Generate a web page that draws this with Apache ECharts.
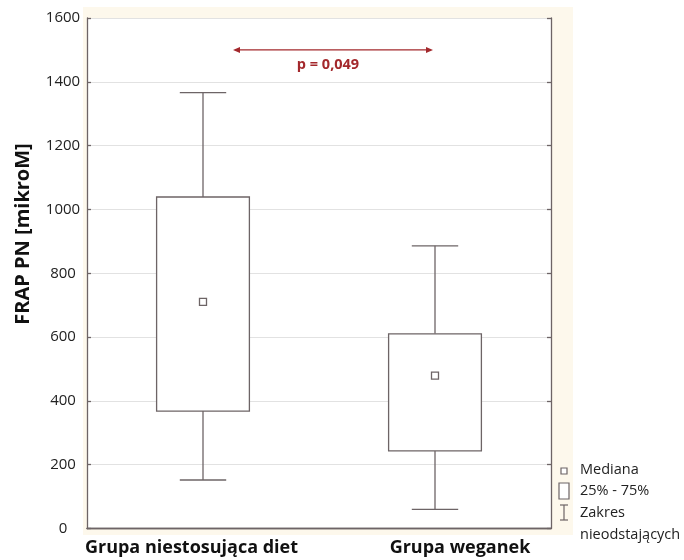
<!DOCTYPE html>
<html>
<head>
<meta charset="utf-8">
<script src="https://cdn.jsdelivr.net/npm/echarts@6/dist/echarts.min.js"></script>
<style>
  html, body { margin: 0; padding: 0; background: #ffffff; }
  #chart { width: 684px; height: 560px; }
</style>
</head>
<body>
<div id="chart"></div>
<script>
// FRAP PN by group: non-outlier range, quartiles and median
const categories = ['Grupa niestosująca diet', 'Grupa weganek'];
const whiskerLow = [152, 60];
const quartile1 = [368, 243];
const median = [710, 479];
const quartile3 = [1039, 610];
const whiskerHigh = [1366, 886];
const yTicks = [0, 200, 400, 600, 800, 1000, 1200, 1400, 1600];
const pValueText = 'p = 0,049';
const pValueLevel = 1500;

const lineColor = '#6d6466';
const fontFamily = '"Open Sans", Lato, sans-serif';

const boxData = categories.map((c, i) => [
  i, whiskerLow[i], quartile1[i], median[i], quartile3[i], whiskerHigh[i]
]);

const chart = echarts.init(document.getElementById('chart'), null, { renderer: 'canvas' });

function renderBox(params, api) {
  const idx = api.value(0);
  const band = api.size([1, 0])[0];
  const boxW = band * 0.4;
  const capW = boxW * 0.5;
  const pLo = api.coord([idx, api.value(1)]);
  const pQ1 = api.coord([idx, api.value(2)]);
  const pMed = api.coord([idx, api.value(3)]);
  const pQ3 = api.coord([idx, api.value(4)]);
  const pHi = api.coord([idx, api.value(5)]);
  const cx = pQ1[0];
  const stroke = { stroke: lineColor, lineWidth: 1.3, fill: null };
  return {
    type: 'group',
    children: [
      { type: 'line', shape: { x1: cx, y1: pQ3[1], x2: cx, y2: pHi[1] }, style: stroke },
      { type: 'line', shape: { x1: cx - capW / 2, y1: pHi[1], x2: cx + capW / 2, y2: pHi[1] }, style: stroke },
      { type: 'line', shape: { x1: cx, y1: pQ1[1], x2: cx, y2: pLo[1] }, style: stroke },
      { type: 'line', shape: { x1: cx - capW / 2, y1: pLo[1], x2: cx + capW / 2, y2: pLo[1] }, style: stroke },
      { type: 'rect', shape: { x: cx - boxW / 2, y: pQ3[1], width: boxW, height: pQ1[1] - pQ3[1] },
        style: { stroke: lineColor, lineWidth: 1.3, fill: '#ffffff' } },
      { type: 'rect', shape: { x: cx - 3.5, y: pMed[1] - 3.5, width: 7, height: 7 },
        style: { stroke: lineColor, lineWidth: 1.3, fill: '#ffffff' } }
    ]
  };
}

const axisLineStyle = { color: lineColor, width: 1.3 };
const catLabelStyle = { color: '#111', fontFamily, fontWeight: 'bold', fontSize: 18 };

chart.setOption({
  backgroundColor: '#ffffff',
  animation: false,
  grid: { left: 87, right: 133, top: 18, bottom: 31.5, containLabel: false },
  xAxis: [
    {
      type: 'category',
      data: categories,
      position: 'bottom',
      axisLine: { lineStyle: axisLineStyle },
      axisTick: { inside: true, alignWithLabel: true, length: 4, lineStyle: axisLineStyle },
      axisLabel: {
        interval: 0,
        margin: 10,
        formatter: (v, i) => (i === 0 ? '{left|' + v + '}' : '{right|' + v + '}'),
        rich: {
          left: Object.assign({ padding: [0, 23, 0, 0] }, catLabelStyle),
          right: Object.assign({ padding: [0, 0, 0, 50] }, catLabelStyle)
        }
      },
      splitLine: { show: false }
    },
    {
      type: 'category',
      data: categories,
      position: 'top',
      axisLine: { lineStyle: axisLineStyle },
      axisTick: { inside: true, alignWithLabel: true, length: 4, lineStyle: axisLineStyle },
      axisLabel: { show: false }
    }
  ],
  yAxis: [
    {
      type: 'value',
      min: yTicks[0],
      max: yTicks[yTicks.length - 1],
      interval: yTicks[1] - yTicks[0],
      axisLine: { show: true, lineStyle: axisLineStyle },
      axisTick: { show: true, inside: true, length: 4, lineStyle: axisLineStyle },
      axisLabel: {
        color: '#222', fontFamily, fontSize: 15, margin: 24, align: 'center',
        formatter: (v) => String(v)
      },
      splitLine: { show: true, lineStyle: { color: '#e2e2e2', width: 1 } }
    },
    {
      type: 'value',
      min: yTicks[0],
      max: yTicks[yTicks.length - 1],
      interval: yTicks[1] - yTicks[0],
      position: 'right',
      axisLine: { show: true, lineStyle: axisLineStyle },
      axisTick: { show: true, inside: true, length: 4, lineStyle: axisLineStyle },
      axisLabel: { show: false },
      splitLine: { show: false }
    }
  ],
  series: [
    {
      type: 'custom',
      renderItem: renderBox,
      data: boxData,
      encode: { x: 0, y: [1, 2, 3, 4, 5] },
      z: 3
    }
  ]
});

// Cream frame, axis title, significance arrow and legend drawn as overlay graphics
const arrowY = chart.convertToPixel({ yAxisIndex: 0 }, pValueLevel);
const red = '#a3282c';
const arrowX1 = 233, arrowX2 = 433;
const legendFont = '14.5px ' + fontFamily;

chart.setOption({
  graphic: [
    { type: 'rect', z: -10, silent: true,
      shape: { x: 83, y: 7, width: 490, height: 528 },
      style: { fill: '#fdf8ec' } },
    { type: 'rect', z: -9, silent: true,
      shape: { x: 87, y: 18, width: 464, height: 510.5 },
      style: { fill: '#ffffff' } },
    { type: 'text', z: 10, x: 23, y: 234, rotation: Math.PI / 2,
      style: { text: 'FRAP PN [mikroM]', fill: '#111', font: 'bold 20px ' + fontFamily,
               align: 'center', verticalAlign: 'middle' } },
    { type: 'line', z: 10,
      shape: { x1: arrowX1 + 4, y1: arrowY, x2: arrowX2 - 4, y2: arrowY },
      style: { stroke: red, lineWidth: 1.3 } },
    { type: 'polygon', z: 10,
      shape: { points: [[arrowX1, arrowY], [arrowX1 + 7, arrowY - 3], [arrowX1 + 7, arrowY + 3]] },
      style: { fill: red } },
    { type: 'polygon', z: 10,
      shape: { points: [[arrowX2, arrowY], [arrowX2 - 7, arrowY - 3], [arrowX2 - 7, arrowY + 3]] },
      style: { fill: red } },
    { type: 'text', z: 10,
      x: 328, y: arrowY + 15,
      style: { text: pValueText, fill: red, font: 'bold 14.5px ' + fontFamily, align: 'center', verticalAlign: 'middle' } },

    // legend
    { type: 'rect', z: 10, shape: { x: 561, y: 468, width: 6, height: 6 },
      style: { stroke: lineColor, lineWidth: 1.2, fill: '#ffffff' } },
    { type: 'rect', z: 10, shape: { x: 559, y: 483, width: 10, height: 16 },
      style: { stroke: lineColor, lineWidth: 1.2, fill: '#ffffff' } },
    { type: 'line', z: 10, shape: { x1: 564, y1: 505, x2: 564, y2: 520 },
      style: { stroke: lineColor, lineWidth: 1.2 } },
    { type: 'line', z: 10, shape: { x1: 560, y1: 505, x2: 568, y2: 505 },
      style: { stroke: lineColor, lineWidth: 1.2 } },
    { type: 'line', z: 10, shape: { x1: 560, y1: 520, x2: 568, y2: 520 },
      style: { stroke: lineColor, lineWidth: 1.2 } },
    { type: 'text', z: 10, x: 580, y: 470,
      style: { text: 'Mediana', fill: '#222', font: legendFont, verticalAlign: 'middle' } },
    { type: 'text', z: 10, x: 580, y: 491,
      style: { text: '25% - 75%', fill: '#222', font: legendFont, verticalAlign: 'middle' } },
    { type: 'text', z: 10, x: 580, y: 513,
      style: { text: 'Zakres', fill: '#222', font: legendFont, verticalAlign: 'middle' } },
    { type: 'text', z: 10, x: 580, y: 535,
      style: { text: 'nieodstających', fill: '#222', font: legendFont, verticalAlign: 'middle' } }
  ]
});
</script>
</body>
</html>
